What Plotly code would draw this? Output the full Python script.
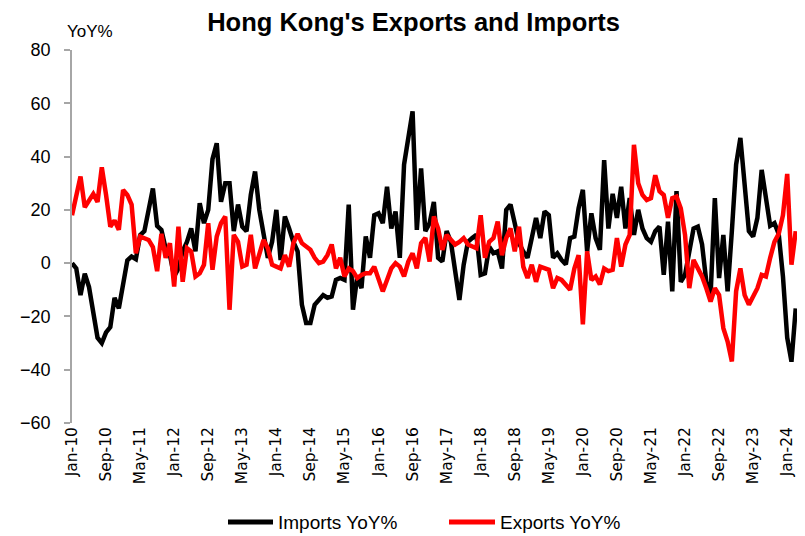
import plotly.graph_objects as go

# Monthly YoY % changes, Jan-2010 .. Mar-2024
imports_yoy = [
    0, -2, -12, -4, -9, -18, -28, -30, -26, -24, -13, -17,          # 2010
    -7, 1, 2.5, 1.5, 10.5, 12, 20, 28, 14, 12.5, 5.5, 3,            # 2011
    -5, -2, 4.5, 8, 13, 4.4, 22.5, 15, 20, 39, 45, 23,              # 2012
    30, 30, 12, 22, 13.7, 12, 25.6, 34.4, 20, 10.6, 2, 8,           # 2013
    20, 1.2, 17.5, 13, 8, 4.4, -15.6, -22.5, -22.5, -15.6, -13.8, -12,  # 2014
    -13, -12.5, -6.3, -5.6, -6.3, 22, -17.5, -5, -9.4, 10, 2, 18,   # 2015
    18.7, 15, 28.7, 13, 19.4, 2, 37, 48, 57, 12.5, 35.6, 12,        # 2016
    15, 23, 2, 0.6, 12, 8, -4.4, -13.8, -0.6, 8, 9.4, 10.6,         # 2017
    -4.4, -3.8, 6.2, 3.7, 4.4, -2, 20, 22, 15, 7.5, 4.4, 2,         # 2018
    9.4, 17, 9.4, 19.4, 18, 2, 3.7, 1.2, -0.5, 9.4, 10, 20.6,       # 2019
    27.5, 4.4, 18.7, 9.4, 5, 38.7, 13, 26, 17, 28.7, 13, 24.4,      # 2020
    10.6, 20, 13, 9.4, 8, 12, 13.7, -4.4, 15.6, -10.6, 27, -7,      # 2021
    -4.4, 4.4, 13, 13.7, 7, -7, -12, 24.4, -5.6, 10.6, -10.6, 12,   # 2022
    37, 47, 30, 12, 10, 17, 35, 25, 14, 15, 11, -5,                 # 2023
    -28, -37, -17,                                                  # 2024
]
exports_yoy = [
    18, 26, 32.5, 21, 23.7, 26, 23, 36, 25.6, 13.7, 16, 12.5,       # 2010
    27.5, 25.6, 22, 3.7, 10, 9.4, 8.7, 6, -3, 11, 2, 7.5,           # 2011
    -8.8, 13.7, -7, 5.6, 4.4, -5, -3.8, -0.6, 15, -2.5, 10, 15,     # 2012
    17.5, -17.5, 10.6, 8, -1.3, -0.6, 10.6, -2, 3, 8.7, 5.6, -0.6,  # 2013
    -1.3, -2, 3, -1.3, 7.5, 11, 7.5, 6.2, 5, 2, 0, 0.6,             # 2014
    3, 7, -2, 2, -5, -2, -3, -5.6, -4.4, -3.8, -3.8, -1.3,          # 2015
    -5.6, -10.6, -6.3, -2, 0, -1.3, -5, 0.6, 3.7, -2, 7.5, 9.5,     # 2016
    0.6, 17.5, 13, 5, 10.6, 8.7, 7, 8, 9.4, 7, 6.2, 5.6,            # 2017
    18, 2, 8, 9.4, 15.6, 3, 9.4, 13, 4.4, 13.7, -1.3, -5.6,         # 2018
    -0.6, -7, -1.3, -2, -2.5, -9.4, -5.6, -6.3, -8, -10, -2, 3,     # 2019
    -23, 4.4, -6.3, -5, -8, -2, -3, -2.5, 9.4, -1.3, 7, 10.6,       # 2020
    44.4, 30, 25.6, 23.7, 24.4, 33, 27, 25.6, 17, 24.4, 25, 20.6,   # 2021
    10.6, -9.4, 1.2, -2, -5, -9.4, -14.4, -9.4, -12, -24.4, -29.4, -36.9,  # 2022
    -10.6, -2, -12, -15.6, -12, -9.4, -4.4, -5, 2, 8, 11, 18,       # 2023
    33.5, -0.6, 12,                                                 # 2024
]
tick_labels = ["Jan-10", "Sep-10", "May-11", "Jan-12", "Sep-12", "May-13",
               "Jan-14", "Sep-14", "May-15", "Jan-16", "Sep-16", "May-17",
               "Jan-18", "Sep-18", "May-19", "Jan-20", "Sep-20", "May-21",
               "Jan-22", "Sep-22", "May-23", "Jan-24"]
series_names = ["Imports YoY%", "Exports YoY%"]
series_colors = ["#000000", "#FF0000"]
tick_every = 8

x_idx = list(range(len(imports_yoy)))
tick_pos = [i * tick_every for i in range(len(tick_labels))]

# the page adds an 8px body margin; size the figure to stay inside the window
OFF = 8
W, H = 805 - 2 * OFF, 536 - OFF
L, R, T = 72 - OFF, 0, 50 - OFF
B = H - (423 - OFF)
PW, PH = W - L - R, H - T - B


def px_x(p):  # page pixel x -> paper x
    return (p - OFF - L) / PW


def px_y(p):  # page pixel y -> paper y
    return (H - B - (p - OFF)) / PH


sans = "Liberation Sans, Arial, sans-serif"

fig = go.Figure()
for name, ys, col in zip(series_names, [imports_yoy, exports_yoy], series_colors):
    fig.add_trace(go.Scatter(x=x_idx, y=ys, mode="lines", name=name,
                             line=dict(color=col, width=4.5)))

# legend drawn below the plot (line swatch + label)
legend_items = [(228, 273, 276), (449, 495, 498)]
shapes, annotations = [], []
ly = px_y(522)
for (x0, x1, tx), name, col in zip(legend_items, series_names, series_colors):
    shapes.append(dict(type="line", xref="paper", yref="paper",
                       x0=px_x(x0), x1=px_x(x1), y0=ly, y1=ly,
                       line=dict(color=col, width=5)))
    annotations.append(dict(text=name, x=px_x(tx), y=ly, xref="paper", yref="paper",
                            xanchor="left", yanchor="middle", showarrow=False,
                            font=dict(family=sans, size=19, color="#000000")))
annotations.append(dict(text="YoY%", x=px_x(90), y=px_y(32), xref="paper", yref="paper",
                        xanchor="center", yanchor="middle", showarrow=False,
                        font=dict(family=sans, size=17, color="#000000")))

fig.update_layout(
    width=W, height=H,
    margin=dict(l=L, r=R, t=T, b=B, autoexpand=False),
    paper_bgcolor="white", plot_bgcolor="white",
    title=dict(text="<b>Hong Kong's Exports and Imports</b>",
               x=(413.5 - OFF) / W, xref="container", xanchor="center",
               y=1 - (22 - OFF) / H, yref="container", yanchor="middle",
               font=dict(family=sans, size=25.5, color="#000000")),
    showlegend=False,
    shapes=shapes,
    annotations=annotations,
)
fig.update_xaxes(range=[0, 170.3], tickmode="array", tickvals=tick_pos, ticktext=tick_labels,
                 tickangle=-90, showgrid=False, zeroline=False, showline=False, ticks="",
                 automargin=False,
                 tickfont=dict(family="DejaVu Sans", size=15.5, color="#000000"))
fig.update_yaxes(range=[-60, 80], dtick=20, tick0=0, showgrid=False, zeroline=False,
                 showline=True, linecolor="#A6A6A6", linewidth=1.5,
                 ticks="outside", ticklen=6, tickcolor="#A6A6A6", tickwidth=1.5,
                 ticklabelstandoff=10, automargin=False,
                 tickfont=dict(family=sans, size=18, color="#000000"))

fig.write_html("out.html")
